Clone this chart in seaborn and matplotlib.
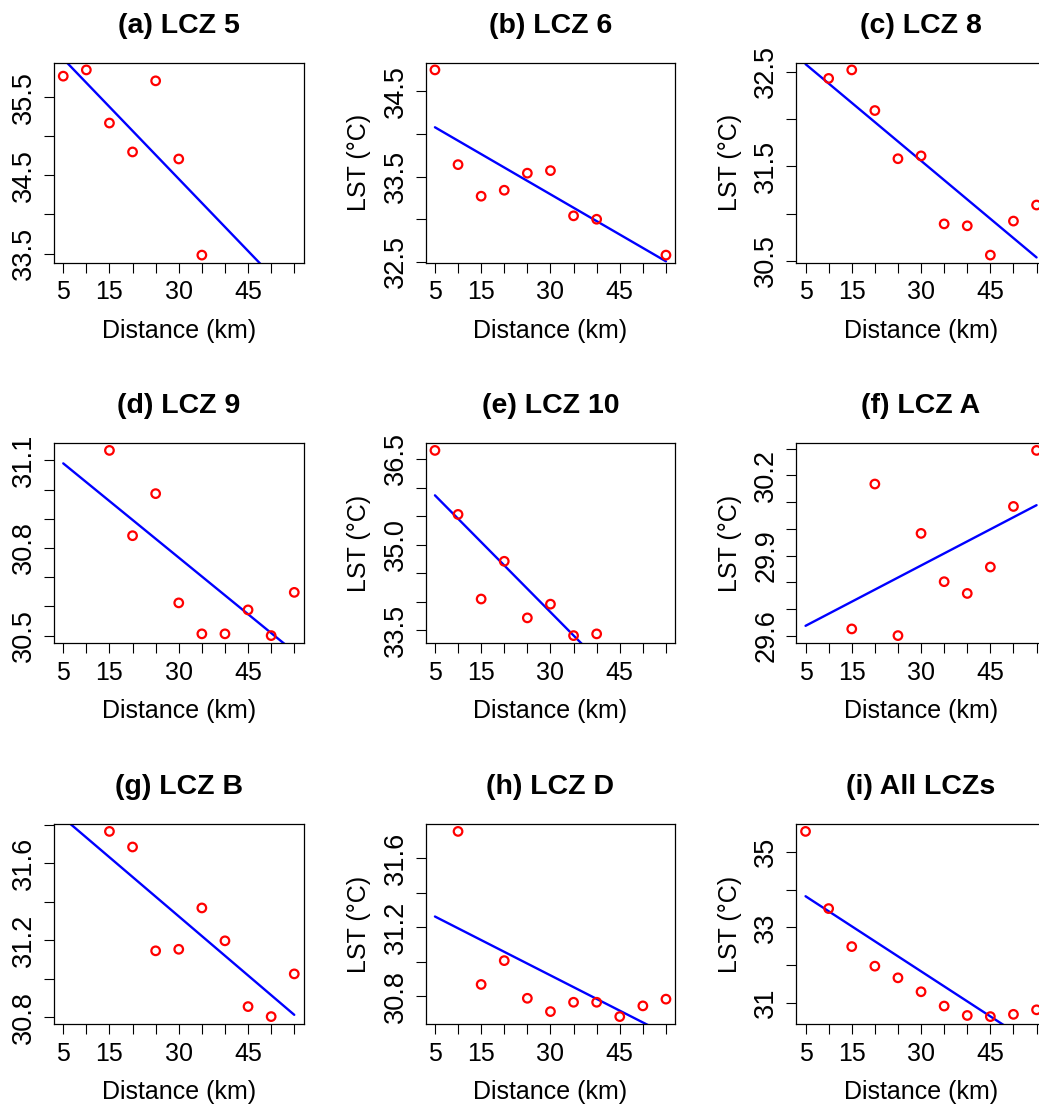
import matplotlib
matplotlib.use("Agg")
import matplotlib.pyplot as plt
import numpy as np
import pandas as pd
import seaborn as sns

# distance bins (km) shared by every panel
distance_ticks = [5, 10, 15, 20, 25, 30, 35, 40, 45, 50, 55]
distance_labels = ["5", "", "15", "", "", "30", "", "", "45", "", ""]

# mean LST (°C) per distance bin
lcz5_x = [5, 10, 15, 20, 25, 30, 35]
lcz5_y = [35.77, 35.85, 35.17, 34.80, 35.71, 34.71, 33.48]

lcz6_x = [5, 10, 15, 20, 25, 30, 35, 40, 55]
lcz6_y = [34.75, 33.64, 33.27, 33.34, 33.54, 33.57, 33.04, 33.00, 32.58]

lcz8_x = [10, 15, 20, 25, 30, 35, 40, 45, 50, 55]
lcz8_y = [32.43, 32.52, 32.09, 31.58, 31.61, 30.89, 30.87, 30.56, 30.92, 31.09]

lcz9_x = [15, 20, 25, 30, 35, 40, 45, 50, 55]
lcz9_y = [31.134, 30.842, 30.986, 30.612, 30.506, 30.506, 30.588, 30.500, 30.648]

lcz10_x = [5, 10, 15, 20, 25, 30, 35, 40]
lcz10_y = [36.65, 35.53, 34.05, 34.71, 33.72, 33.96, 33.41, 33.44]

lczA_x = [15, 20, 25, 30, 35, 40, 45, 50, 55]
lczA_y = [29.625, 30.168, 29.600, 29.983, 29.802, 29.758, 29.857, 30.084, 30.294]

lczB_x = [15, 20, 25, 30, 35, 40, 45, 50, 55]
lczB_y = [31.766, 31.685, 31.145, 31.153, 31.368, 31.197, 30.855, 30.803, 31.025]

lczD_x = [10, 15, 20, 25, 30, 35, 40, 45, 50, 55]
lczD_y = [31.754, 30.868, 31.006, 30.788, 30.711, 30.765, 30.765, 30.682, 30.744, 30.783]

all_x = [5, 10, 15, 20, 25, 30, 35, 40, 45, 50, 55]
all_y = [35.55, 33.50, 32.49, 31.97, 31.66, 31.29, 30.91, 30.66, 30.63, 30.69, 30.81]

# y ticks and which of them carry a label
lcz5_ticks = [33.5, 34.0, 34.5, 35.0, 35.5]
lcz5_labels = ["33.5", "", "34.5", "", "35.5"]
lcz6_ticks = [32.5, 33.0, 33.5, 34.0, 34.5]
lcz6_labels = ["32.5", "", "33.5", "", "34.5"]
lcz8_ticks = [30.5, 31.0, 31.5, 32.0, 32.5]
lcz8_labels = ["30.5", "", "31.5", "", "32.5"]
lcz9_ticks = [30.5, 30.6, 30.7, 30.8, 30.9, 31.0, 31.1]
lcz9_labels = ["30.5", "", "", "30.8", "", "", "31.1"]
lcz10_ticks = [33.5, 34.0, 34.5, 35.0, 35.5, 36.0, 36.5]
lcz10_labels = ["33.5", "", "", "35.0", "", "", "36.5"]
lczA_ticks = [29.6, 29.7, 29.8, 29.9, 30.0, 30.1, 30.2, 30.3]
lczA_labels = ["29.6", "", "", "29.9", "", "", "30.2", ""]
lczB_ticks = [30.8, 31.0, 31.2, 31.4, 31.6, 31.8]
lczB_labels = ["30.8", "", "31.2", "", "31.6", ""]
lczD_ticks = [30.8, 31.0, 31.2, 31.4, 31.6]
lczD_labels = ["30.8", "", "31.2", "", "31.6"]
all_ticks = [31, 32, 33, 34, 35]
all_labels = ["31", "", "33", "", "35"]

panels = [
    ("(a) LCZ 5", lcz5_x, lcz5_y, lcz5_ticks, lcz5_labels),
    ("(b) LCZ 6", lcz6_x, lcz6_y, lcz6_ticks, lcz6_labels),
    ("(c) LCZ 8", lcz8_x, lcz8_y, lcz8_ticks, lcz8_labels),
    ("(d) LCZ 9", lcz9_x, lcz9_y, lcz9_ticks, lcz9_labels),
    ("(e) LCZ 10", lcz10_x, lcz10_y, lcz10_ticks, lcz10_labels),
    ("(f) LCZ A", lczA_x, lczA_y, lczA_ticks, lczA_labels),
    ("(g) LCZ B", lczB_x, lczB_y, lczB_ticks, lczB_labels),
    ("(h) LCZ D", lczD_x, lczD_y, lczD_ticks, lczD_labels),
    ("(i) All LCZs", all_x, all_y, all_ticks, all_labels),
]

sns.set_style("ticks")
plt.rcParams["font.family"] = ["Liberation Sans", "DejaVu Sans"]
plt.rcParams["text.color"] = "black"
plt.rcParams["axes.labelcolor"] = "black"

W, H = 1039, 1108
fig = plt.figure(figsize=(W / 100, H / 100), dpi=100)

col_left = [54, 425.7, 796.3]
row_top = [62.5, 443, 824]
ax_w, ax_h = 249.5, 200


def r_range(vals):
    # R's default 4% axis expansion
    lo, hi = min(vals), max(vals)
    pad = 0.04 * (hi - lo)
    return lo - pad, hi + pad


for i, (title, xs, ys, yticks, ylabels) in enumerate(panels):
    row, col = divmod(i, 3)
    ax = fig.add_axes([col_left[col] / W, 1 - (row_top[row] + ax_h) / H,
                       ax_w / W, ax_h / H])
    df = pd.DataFrame({"dist": xs, "lst": ys})

    # fitted line over the full distance span
    ax.set_xlim(min(distance_ticks), max(distance_ticks))
    sns.regplot(data=df, x="dist", y="lst", ax=ax, scatter=False, ci=None,
                truncate=False, color="#0000FF", line_kws={"linewidth": 1.7})
    sns.scatterplot(data=df, x="dist", y="lst", ax=ax, marker="o", s=38,
                    facecolors="none", edgecolor="#FF0000", linewidth=1.6,
                    zorder=3)

    ax.set_xlim(*r_range(distance_ticks))
    ax.set_ylim(*r_range(ys))
    ax.set_xticks(distance_ticks)
    ax.set_xticklabels(distance_labels)
    ax.set_yticks(yticks)
    ax.set_yticklabels(ylabels, rotation=90, va="center")
    ax.tick_params(axis="both", direction="out", length=7.2, width=0.8,
                   color="black", labelcolor="black")
    ax.tick_params(axis="x", pad=5.5, labelsize=18)
    ax.tick_params(axis="y", pad=5, labelsize=19.5)
    for sp in ax.spines.values():
        sp.set_visible(True)
        sp.set_color("black")
        sp.set_linewidth(0.9)

    ax.set_title(title, fontsize=20.5, fontweight="bold", pad=21.5,
                 color="black")
    ax.set_xlabel("Distance (km)", fontsize=18)
    ax.xaxis.set_label_coords(0.5, -0.2815)
    if col > 0:
        ax.set_ylabel("LST (°C)", fontsize=18)
        ax.yaxis.set_label_coords(-0.219, 0.5)
    else:
        ax.set_ylabel("")

fig.savefig("out.png", dpi=100, facecolor="white")
